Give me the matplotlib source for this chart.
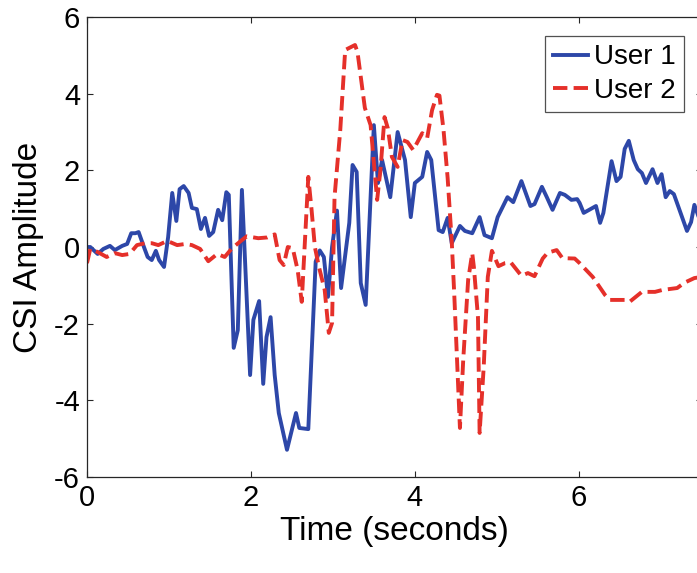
import numpy as np
import matplotlib
matplotlib.use('Agg')
import matplotlib.pyplot as plt

plt.rcParams['font.family'] = ['Liberation Sans', 'DejaVu Sans']
plt.rcParams['axes.unicode_minus'] = False

# user 1 (solid blue)
t1 = [0.0, 0.04, 0.13, 0.2, 0.28, 0.34, 0.43, 0.49, 0.54, 0.59, 0.63, 0.70, 0.74, 0.79,
      0.84, 0.88, 0.94, 0.99, 1.04, 1.09, 1.13, 1.18, 1.24, 1.28, 1.34, 1.39, 1.44, 1.49,
      1.54, 1.60, 1.65, 1.70, 1.73, 1.79, 1.84, 1.89, 1.99, 2.03, 2.10, 2.15, 2.19, 2.24,
      2.29, 2.34, 2.44, 2.55, 2.59, 2.70, 2.79, 2.84, 2.89, 2.94, 2.99, 3.05, 3.10, 3.20,
      3.24, 3.29, 3.34, 3.40, 3.50, 3.55, 3.60, 3.70, 3.79, 3.88, 3.95, 4.0, 4.09, 4.15,
      4.20, 4.29, 4.34, 4.40, 4.45, 4.55, 4.61, 4.70, 4.79, 4.85, 4.94, 5.01, 5.13, 5.20,
      5.30, 5.41, 5.46, 5.55, 5.61, 5.68, 5.77, 5.83, 5.91, 5.98, 6.01, 6.06, 6.21, 6.26,
      6.30, 6.40, 6.46, 6.51, 6.56, 6.61, 6.67, 6.72, 6.77, 6.82, 6.90, 6.96, 7.01, 7.06,
      7.11, 7.16, 7.32, 7.37, 7.41, 7.46, 7.5]
user1 = [0.0, 0.0, -0.18, -0.05, 0.03, -0.08, 0.03, 0.08, 0.36, 0.36, 0.39, -0.03, -0.26, -0.34,
         -0.1, -0.34, -0.52, 0.26, 1.41, 0.68, 1.51, 1.59, 1.41, 1.02, 0.99, 0.47, 0.76, 0.29,
         0.39, 0.97, 0.70, 1.43, 1.36, -2.63, -2.17, 1.49, -3.34, -1.9, -1.41, -3.57, -2.35, -1.83,
         -3.34, -4.33, -5.29, -4.33, -4.72, -4.75, -0.38, -0.09, -0.26, -1.3, 0.0, 0.95, -1.07, 0.63,
         2.14, 1.96, -0.94, -1.51, 3.18, 1.67, 2.27, 1.30, 3.0, 2.27, 0.78, 1.67, 1.83, 2.48,
         2.27, 0.44, 0.39, 0.76, 0.10, 0.55, 0.42, 0.36, 0.78, 0.31, 0.23, 0.78, 1.30, 1.17,
         1.72, 1.07, 1.12, 1.57, 1.30, 0.97, 1.41, 1.36, 1.23, 1.25, 1.15, 0.89, 1.07, 0.63,
         0.89, 2.24, 1.72, 1.83, 2.56, 2.77, 2.27, 2.03, 1.93, 1.67, 2.03, 1.67, 1.90, 1.30,
         1.46, 1.38, 0.42, 0.65, 1.10, 0.8, 0.6]

# user 2 (dashed red)
t2 = [0.0, 0.04, 0.13, 0.24, 0.34, 0.43, 0.52, 0.61, 0.71, 0.79, 0.87, 0.98, 1.10, 1.20,
      1.28, 1.38, 1.48, 1.59, 1.68, 1.77, 1.89, 1.95, 2.09, 2.20, 2.29, 2.35, 2.40, 2.45,
      2.51, 2.57, 2.62, 2.70, 2.74, 2.78, 2.83, 2.90, 2.95, 2.99, 3.02, 3.09, 3.15, 3.27,
      3.30, 3.39, 3.46, 3.54, 3.58, 3.63, 3.67, 3.72, 3.79, 3.85, 3.91, 3.98, 4.09, 4.15,
      4.21, 4.27, 4.30, 4.35, 4.40, 4.45, 4.48, 4.55, 4.59, 4.65, 4.70, 4.72, 4.77, 4.79,
      4.84, 4.89, 4.94, 5.02, 5.10, 5.17, 5.30, 5.38, 5.46, 5.56, 5.62, 5.73, 5.80, 5.95,
      6.01, 6.17, 6.32, 6.38, 6.56, 6.62, 6.77, 6.93, 7.02, 7.2, 7.29, 7.41, 7.5]
user2 = [-0.42, -0.05, -0.13, -0.26, -0.16, -0.21, -0.18, 0.05, 0.10, 0.10, 0.05, 0.16, 0.05, 0.08,
         0.05, -0.05, -0.37, -0.18, -0.26, -0.03, 0.18, 0.28, 0.23, 0.25, 0.33, -0.34, -0.47, 0.0,
         -0.03, -0.60, -1.43, 1.83, 0.97, 0.0, -0.52, -1.12, -2.24, -1.98, 1.30, 3.05, 5.14, 5.27,
         5.09, 3.63, 3.18, 1.23, 2.01, 3.39, 3.10, 2.35, 2.09, 2.79, 2.74, 2.53, 2.97, 2.84,
         3.57, 3.97, 3.95, 3.05, 1.80, 0.15, -1.2, -4.72, -2.95, -0.86, -0.16, -0.52, -1.83, -4.85,
         -3.13, -0.78, -0.10, -0.50, -0.42, -0.40, -0.75, -0.68, -0.76, -0.30, -0.15, -0.08, -0.29, -0.30,
         -0.42, -0.78, -1.25, -1.38, -1.38, -1.43, -1.17, -1.17, -1.12, -1.07, -0.93, -0.81, -0.78]

xticks = [0, 2, 4, 6]
yticks = [-6, -4, -2, 0, 2, 4, 6]

fig = plt.figure(figsize=(6.97, 5.73), dpi=100)
# right edge of the axes sits just outside the picture, like the cropped original
ax = fig.add_axes([0.1248, 0.1675, 0.882, 0.8028])

ax.plot(t1, user1, color='#2d47a8', lw=2.8, label='User 1')
ax.plot(t2, user2, color='#e5302a', lw=2.8, ls='--', label='User 2')

ax.set_xlim(0, 7.5)
ax.set_ylim(-6, 6)
ax.set_xticks(xticks)
ax.set_yticks(yticks)
ax.tick_params(direction='in', length=4, width=0.8, labelsize=21, top=True, right=True,
               colors='#262626', labelcolor='black', pad=5)
for s in ax.spines.values():
    s.set_color('#262626')
    s.set_linewidth(0.9)

ax.set_xlabel('Time (seconds)', fontsize=24, labelpad=3)
ax.set_ylabel('CSI Amplitude', fontsize=24, labelpad=7)

leg = ax.legend(loc='upper right', bbox_to_anchor=(0.9707, 0.9587), fontsize=20,
                frameon=True, fancybox=False, edgecolor='#262626', handlelength=1.25,
                handletextpad=0.2, borderpad=0.3, labelspacing=0.28, borderaxespad=0)
leg.get_frame().set_linewidth(0.9)

fig.savefig('out.png', dpi=100)
